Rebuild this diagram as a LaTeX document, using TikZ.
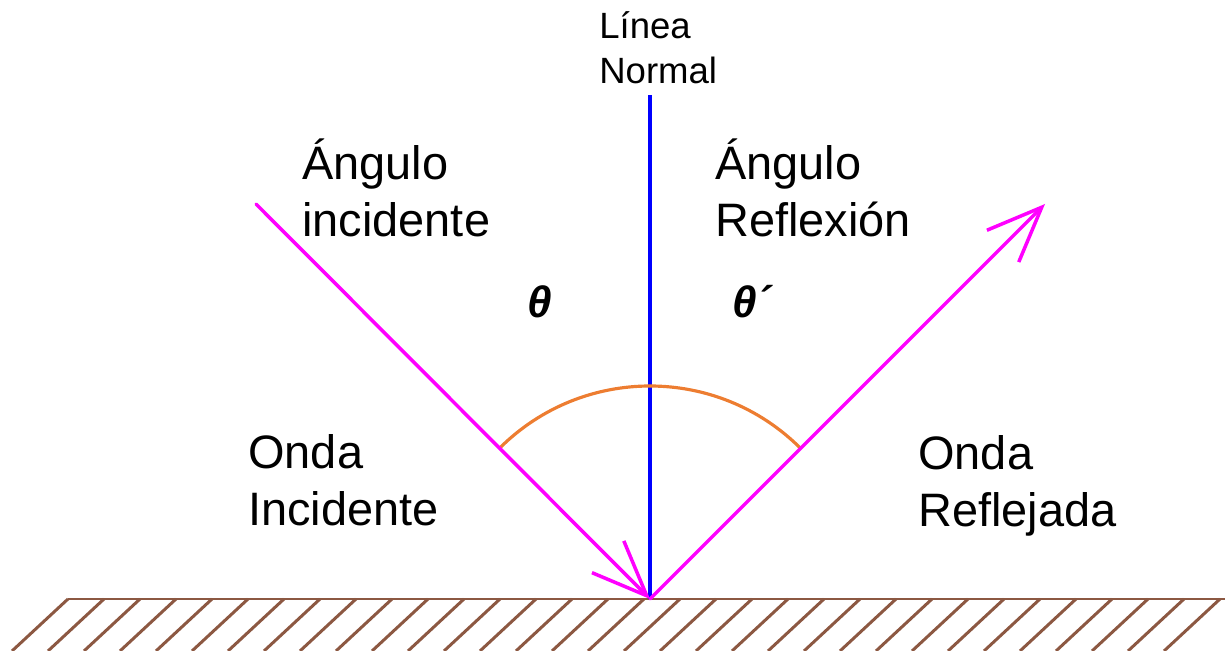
\documentclass[tikz,border=0pt]{standalone}
\usepackage{fontspec}
\setmainfont{Liberation Sans}
\usetikzlibrary{arrows.meta}
\definecolor{rayo}{RGB}{255,0,255}
\definecolor{normal}{RGB}{0,0,255}
\definecolor{arco}{RGB}{237,125,49}
\definecolor{suelo}{RGB}{140,88,66}
\begin{document}
\begin{tikzpicture}[x=0.02cm,y=-0.02cm]
        \tikzset{ray/.style={draw=rayo,line width=2pt,line cap=round,
                -{Straight Barb[length=1.1cm,width=0.9cm]}},
            label/.style={font=\fontsize{26.7}{32.4}\selectfont,align=left,inner sep=0pt,anchor=west},
            angle/.style={font=\fontsize{25}{30}\selectfont\bfseries\itshape,inner sep=0pt},
            hatch/.style={draw=suelo,line width=1.7pt}}
        \useasboundingbox (0,0) rectangle (1225,651);
        % puntos
        \coordinate (O) at (650,599);
        \coordinate (A) at (256,204);
        \coordinate (B) at (1045,204);
        \coordinate (N) at (650,95);
        % suelo
        \begin{scope}
            \clip (0,0) rectangle (1225,651);
            \draw[hatch] (68,599) -- (1225,599);
            \foreach \i in {0,...,32}
                \draw[hatch] (68+36*\i,599) -- ++(-56,52);
        \end{scope}
        % normal y arco
        \draw[normal,line width=1.8pt] (O) -- (N);
        \draw[arco,line width=1.8pt] (O) ++(225:213) arc[start angle=225,end angle=315,radius=213];
        % rayos
        \draw[ray] (A) -- (O);
        \draw[ray] (O) -- (B);
        % textos
        \node[align=left,anchor=west,inner sep=0pt,font=\fontsize{20.8}{25.6}\selectfont] (normal) at (599,48) {Línea\\Normal};
        \node[label] (angi) at (302,188) {Ángulo\\incidente};
        \node[label] (angr) at (715,188) {Ángulo\\Reflexión};
        \node[label] (ondai) at (248,480) {Onda\\Incidente};
        \node[label] (ondar) at (918,486) {Onda\\Reflejada};
        \node[angle] (theta) at (540,302) {θ};
        \node[angle] (thetap) at (752,302) {θ´};
\end{tikzpicture}
\end{document}
